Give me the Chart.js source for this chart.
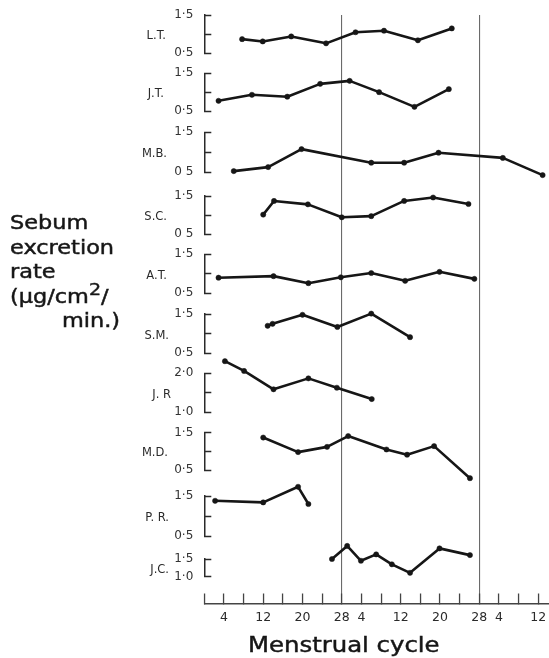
<!DOCTYPE html>
<html><head><meta charset="utf-8">
<script src="https://cdn.jsdelivr.net/npm/chart.js@4.4.1/dist/chart.umd.min.js"></script>
<style>
html,body{margin:0;padding:0;background:#fff;}
#wrap{position:relative;width:549px;height:658px;overflow:hidden;background:#fff;}
#c{position:absolute;left:0;top:0;}
.ttl{position:absolute;font-family:"DejaVu Sans",sans-serif;color:#161616;white-space:nowrap;transform-origin:0 0;-webkit-text-stroke:0.45px #161616;}
.ttl sup{font-size:0.85em;line-height:0;vertical-align:0;position:relative;top:-0.45em;}
</style></head><body>
<div id="wrap">
<canvas id="c" width="549" height="658"></canvas>
<div class="ttl" style="left:10px;top:210px;font-size:19px;line-height:24.5px;transform:scaleX(1.18)">Sebum<br>excretion<br>rate<br>(µg/cm<sup>2</sup>/<br><span style="padding-left:44px">min.)</span></div>
<div class="ttl" style="left:248px;top:635px;font-size:21px;line-height:21px;transform:scaleX(1.16)">Menstrual cycle</div>
</div>
<script>
// ---- data ----
const subjects = ['L.T.', 'J.T.', 'M.B.', 'S.C.', 'A.T.', 'S.M.', 'J. R', 'M.D.', 'P. R.', 'J.C.'];

const ltDay = [7.7, 11.9, 17.7, 24.8, 30.8, 36.6, 43.5, 50.4];
const ltRate = [0.87, 0.81, 0.94, 0.76, 1.05, 1.09, 0.84, 1.15];
const jtDay = [2.9, 9.7, 16.9, 23.6, 29.6, 35.6, 42.8, 49.8];
const jtRate = [0.77, 0.93, 0.88, 1.22, 1.30, 1.00, 0.61, 1.08];
const mbDay = [6.0, 13.0, 19.8, 34.0, 40.7, 47.7, 60.8, 68.9];
const mbRate = [0.53, 0.63, 1.08, 0.74, 0.74, 0.99, 0.86, 0.43];
const scDay = [12.0, 14.2, 21.1, 28.0, 34.0, 40.7, 46.6, 53.8];
const scRate = [1.01, 1.37, 1.28, 0.94, 0.97, 1.37, 1.46, 1.29];
const atDay = [2.9, 14.1, 21.2, 27.8, 34.0, 40.9, 47.9, 55.0];
const atRate = [0.90, 0.94, 0.76, 0.91, 1.02, 0.82, 1.05, 0.87];
const smDay = [12.9, 13.9, 20.0, 27.1, 34.0, 41.9];
const smRate = [1.20, 1.25, 1.48, 1.17, 1.51, 0.91];
const jrDay = [4.2, 8.1, 14.1, 21.2, 27.0, 34.1];
const jrRate = [2.31, 2.06, 1.59, 1.87, 1.63, 1.34];
const mdDay = [12.0, 19.1, 25.0, 29.3, 37.1, 41.3, 46.8, 54.1];
const mdRate = [1.37, 0.98, 1.12, 1.41, 1.05, 0.91, 1.14, 0.28];
const prDay = [2.2, 12.0, 19.1, 21.2];
const prRate = [1.38, 1.34, 1.73, 1.30];
const jcDay = [26.0, 29.1, 31.9, 35.0, 38.2, 41.9, 47.9, 54.1];
const jcRate = [1.50, 1.87, 1.45, 1.63, 1.35, 1.11, 1.80, 1.61];

// y-axis ticks of each panel (values) and their printed labels
const yTickValues = [
  [0.5, 1.0, 1.5], [0.5, 1.0, 1.5], [0.5, 1.0, 1.5], [0.5, 1.0, 1.5], [0.5, 1.0, 1.5],
  [0.5, 1.0, 1.5], [1.0, 1.5, 2.0], [0.5, 1.0, 1.5], [0.5, 1.0, 1.5], [1.0, 1.5]
];
const yTickLabels = [
  ['0·5', '', '1·5'], ['0·5', '', '1·5'], ['0 5', '', '1·5'], ['0 5', '', '1·5'], ['0·5', '', '1·5'],
  ['0·5', '', '1·5'], ['1·0', '', '2·0'], ['0·5', '', '1·5'], ['0·5', '', '1·5'], ['1·0', '1·5']
];

// x-axis: days across three consecutive cycles
const xTickValues = [0, 4, 8, 12, 16, 20, 24, 28, 32, 36, 40, 44, 48, 52, 56, 60, 64, 68];
const xTickLabels = ['', '4', '', '12', '', '20', '', '28', '4', '', '12', '', '20', '', '28', '4', '', '12'];
const cycleEnds = [28, 56];

// ---- layout (pixels) ----
const panelTopPx = [15, 73.3, 132.3, 196, 254.3, 314, 373.3, 432.7, 496, 559];
const panelBotPx = [53.3, 111, 172.3, 234, 293.3, 353.3, 412.3, 470, 536, 576.7];
const axisPx = 603.5;
const nameRightPx = [166, 164, 167, 167, 167, 169, 171, 168, 169, 169];

const series = [
  [ltDay, ltRate], [jtDay, jtRate], [mbDay, mbRate], [scDay, scRate], [atDay, atRate],
  [smDay, smRate], [jrDay, jrRate], [mdDay, mdRate], [prDay, prRate], [jcDay, jcRate]
];

Chart.defaults.font.family = '"DejaVu Sans", sans-serif';
Chart.defaults.color = '#2a2a2a';

const INK = '#161616';
const noPad = s => { s.paddingLeft = 0; s.paddingRight = 0; s.paddingTop = 0; s.paddingBottom = 0; };
const scales = {
  x: {
    type: 'linear', position: 'bottom', min: 0, max: 70.2,
    afterBuildTicks: s => { s.ticks = xTickValues.map(v => ({value: v})); },
    afterFit: s => { s.height = 658 - axisPx; noPad(s); },
    ticks: {
      autoSkip: false, maxRotation: 0, padding: 17, color: '#2a2a2a',
      font: {size: 12.5},
      callback: (v, i) => xTickLabels[i]
    },
    grid: {
      drawOnChartArea: true, drawTicks: true, tickLength: -10,
      color: c => (c.tick && cycleEnds.includes(c.tick.value)) ? '#6a6a6a' : 'rgba(0,0,0,0)',
      lineWidth: 1.1, tickColor: '#444', tickWidth: 1.3
    },
    border: {display: true, color: '#444', width: 1.4}
  }
};

const datasets = [];
subjects.forEach((name, i) => {
  const tv = yTickValues[i];
  const lo = tv[0], hi = tv[tv.length - 1];
  scales['y' + i] = {
    type: 'linear', position: 'left', stack: 'panels',
    stackWeight: panelBotPx[i] - panelTopPx[i], weight: 200 - 2 * i,
    min: lo, max: hi,
    afterBuildTicks: s => { s.ticks = tv.map(v => ({value: v})); },
    afterFit: s => { s.width = 44.3; noPad(s); },
    ticks: {
      autoSkip: false, padding: 18, color: '#333', font: {size: 12},
      callback: (v, k) => yTickLabels[i][k]
    },
    grid: {drawOnChartArea: false, drawTicks: true, tickLength: -7, tickColor: '#2a2a2a', tickWidth: 1.5},
    border: {display: true, color: '#2a2a2a', width: 1.5}
  };
  const nextTop = i < subjects.length - 1 ? panelTopPx[i + 1] : axisPx;
  scales['g' + i] = {
    type: 'linear', position: 'left', stack: 'panels', display: false,
    stackWeight: nextTop - panelBotPx[i], weight: 199 - 2 * i,
    afterFit: noPad
  };
  const [days, vals] = series[i];
  datasets.push({
    label: name,
    data: days.map((d, k) => ({x: d, y: vals[k]})),
    xAxisID: 'x', yAxisID: 'y' + i,
    borderColor: INK, backgroundColor: INK,
    borderWidth: 2.6, tension: 0,
    pointRadius: 2.6, pointBorderWidth: 0.5, pointBackgroundColor: INK, pointBorderColor: INK,
    borderCapStyle: 'round', borderJoinStyle: 'round',
    clip: false
  });
});

const namePlugin = {
  id: 'panelNames',
  afterDraw(chart) {
    const ctx = chart.ctx;
    ctx.save();
    ctx.font = '11.5px "DejaVu Sans", sans-serif';
    ctx.fillStyle = '#2a2a2a';
    ctx.textAlign = 'right';
    ctx.textBaseline = 'middle';
    subjects.forEach((name, i) => {
      const s = chart.scales['y' + i];
      ctx.fillText(name, nameRightPx[i], s.getPixelForValue((s.min + s.max) / 2) + 2);
    });
    ctx.restore();
  }
};

new Chart(document.getElementById('c'), {
  type: 'line',
  data: {datasets},
  options: {
    responsive: false, animation: false, devicePixelRatio: 1,
    layout: {autoPadding: false, padding: {top: 15, left: 160, right: 0, bottom: 0}},
    plugins: {legend: {display: false}, tooltip: {enabled: false}, title: {display: false}},
    events: [],
    scales
  },
  plugins: [namePlugin]
});
</script>
</body></html>
